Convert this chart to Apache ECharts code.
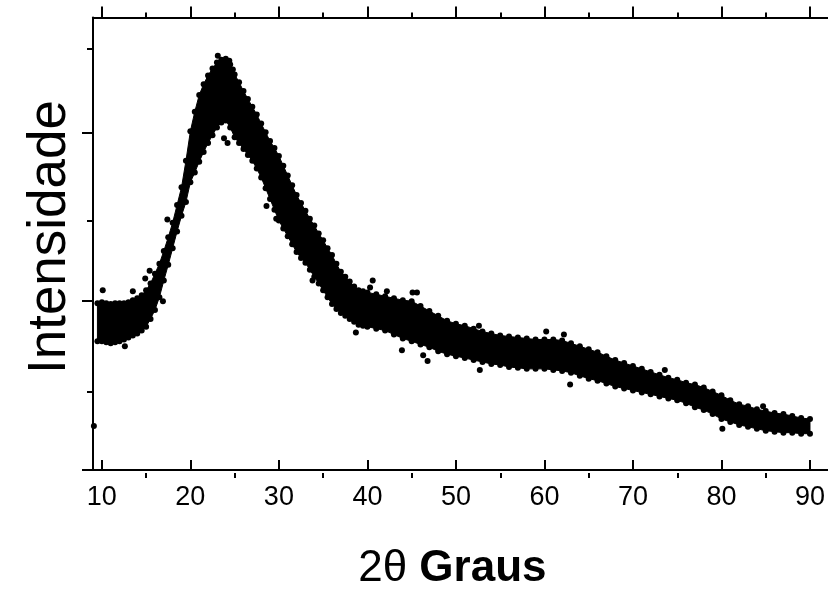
<!DOCTYPE html>
<html>
<head>
<meta charset="utf-8">
<script src="https://cdn.jsdelivr.net/npm/echarts@6/dist/echarts.min.js"></script>
<style>html,body{margin:0;padding:0;background:#fff}#c{width:828px;height:596px}</style>
</head>
<body>
<div id="c"></div>
<script>
// 2-theta positions (degrees)
const degs = [9.5,10,10.5,11,11.5,12,12.5,13,13.5,14,14.5,15,15.5,16,16.5,17,17.5,18,18.5,19,19.5,
  20,20.5,21,21.5,22,22.5,23,23.5,24,24.5,25,25.5,26,26.5,27,27.5,28,28.5,29,29.5,
  30,30.5,31,31.5,32,32.5,33,33.5,34,34.5,35,35.5,36,36.5,37,37.5,38,38.5,39,39.5,
  40,41,42,43,44,45,46,47,48,49,50,51,52,53,54,55,56,57,58,59,60,61,62,63,64,65,66,67,68,69,
  70,71,72,73,74,75,76,77,78,79,80,81,82,83,84,85,86,87,88,89,90];
// upper edge of the noisy band of points (intensity, a.u.)
const upperI = [988,994,988,983,988,988,988,994,1006,1017,1035,1064,1105,1163,1221,1297,1378,1465,1570,1674,1831,
  2006,2122,2221,2285,2337,2378,2413,2430,2436,2401,2343,2297,2244,2198,2151,2105,2052,2000,1948,1907,
  1860,1802,1744,1686,1628,1581,1535,1488,1448,1401,1360,1314,1273,1221,1174,1145,1116,1087,1064,1058,
  1052,1041,1029,1017,1006,1000,971,942,913,884,866,855,837,820,808,797,791,785,779,773,773,773,767,750,733,715,698,674,651,634,
  616,599,581,564,547,535,517,506,488,465,442,413,390,378,360,349,337,331,320,308,302];
// lower edge of the noisy band of points
const lowerI = [762,762,756,750,756,762,773,785,797,808,826,849,895,948,1023,1122,1215,1314,1413,1506,1587,
  1704,1762,1826,1884,1936,1983,2029,2058,2070,2029,1971,1936,1901,1866,1831,1785,1733,1669,1605,1541,
  1477,1430,1384,1337,1291,1256,1227,1186,1145,1105,1064,1023,983,954,930,913,895,878,860,855,
  849,837,826,802,779,762,744,727,703,686,674,663,651,640,628,622,610,605,599,599,599,593,587,576,558,541,529,512,494,483,
  471,459,448,436,424,413,395,372,355,331,302,285,267,256,244,233,227,221,221,215,215];
// isolated scattered points
const strayDeg = [9.1,10.1,13.5,14.9,15.4,17.4,12.6,16.9,23.1,24.4,24.8,23.8,24.2,28.6,29.7,33.8,38.7,40.6,40.3,42.2,45.1,45.6,43.9,46.3,46.8,52.7,52.6,60.2,62.2,62.9,73.6,80.1,84.7];
const strayI   = [260,1064,1058,1134,1180,1483,733,1000,2453,2424,2372,1965,1936,1564,1488,1122,814,1122,1081,1058,1052,1052,709,680,645,593,855,820,802,506,593,244,378];
// tick labels / positions
const xMajor = [10,20,30,40,50,60,70,80,90];
const xMinor = [15,25,35,45,55,65,75,85];
const yMajor = [0,1000,2000];
const yMinor = [500,1500,2500];

const FONT = 'Liberation Sans, Arial, sans-serif';
const upperData = degs.map((d,i)=>[d, upperI[i]]);
const lowerData = degs.map((d,i)=>[d, lowerI[i]]);
const edgeData = upperData.concat(lowerData);
const strayData = strayDeg.map((d,i)=>[d, strayI[i]]);

const gridRect = {left:93, right:0, top:17.5, bottom:118};
const blk = {color:'#000', width:2};
function xAx(grid, pos, ticks, inside, len, line, labels){
  return {gridIndex:grid, type:'value', position:pos, min:9, max:92, z:10,
    axisLine:{show:line, onZero:false, lineStyle:blk},
    axisTick:{show:true, inside:inside, length:len, customValues:ticks, lineStyle:blk},
    axisLabel:{show:labels, customValues:ticks, margin:14, fontSize:27, color:'#000', fontFamily:FONT},
    splitLine:{show:false}, minorTick:{show:false}};
}
function yAx(grid, ticks, len, line){
  return {gridIndex:grid, type:'value', position:'left', min:0, max:2680, z:10,
    axisLine:{show:line, onZero:false, lineStyle:blk},
    axisTick:{show:true, inside:false, length:len, customValues:ticks, lineStyle:blk},
    axisLabel:{show:false}, splitLine:{show:false}};
}
const xMain = xAx(0,'bottom',xMajor,true,10,true,true);
xMain.name = '{a|2θ }{b|Graus}';
xMain.nameLocation = 'middle';
xMain.nameGap = 77;
xMain.nameTextStyle = {padding:[0,16,0,0], rich:{
  a:{fontSize:44, fontFamily:FONT, color:'#000'},
  b:{fontSize:44, fontFamily:FONT, fontWeight:'bold', color:'#000'}}};

const chart = echarts.init(document.getElementById('c'), null, {renderer:'canvas'});
chart.setOption({
  animation:false,
  backgroundColor:'#fff',
  grid:[gridRect, gridRect],
  xAxis:[xMain, xAx(0,'top',xMajor,false,11,true,false),
         xAx(1,'bottom',xMinor,true,5,false,false), xAx(1,'top',xMinor,false,5,false,false)],
  yAxis:[yAx(0,yMajor,11,true), yAx(1,yMinor,6,false)],
  graphic:[{type:'text', x:50, y:237, rotation:Math.PI/2,
    style:{text:'Intensidade', fontSize:53, fontFamily:FONT, fill:'#000', align:'center', verticalAlign:'middle'}}],
  series:[
    {type:'custom', xAxisIndex:0, yAxisIndex:0, data:[[degs[0], upperI[0]]], z:2, silent:true,
     renderItem:function(params, api){
       const pts = upperData.map(p=>api.coord(p)).concat(lowerData.slice().reverse().map(p=>api.coord(p)));
       return {type:'polygon', shape:{points:pts}, style:{fill:'#000', stroke:'#000', lineWidth:1}};
     }},
    {type:'scatter', xAxisIndex:0, yAxisIndex:0, data:edgeData, symbol:'circle', symbolSize:6, z:4,
     itemStyle:{color:'#000', opacity:1}, silent:true},
    {type:'scatter', xAxisIndex:0, yAxisIndex:0, data:strayData, symbol:'circle', symbolSize:6, z:4,
     itemStyle:{color:'#000', opacity:1}, silent:true}
  ]
});
</script>
</body>
</html>
